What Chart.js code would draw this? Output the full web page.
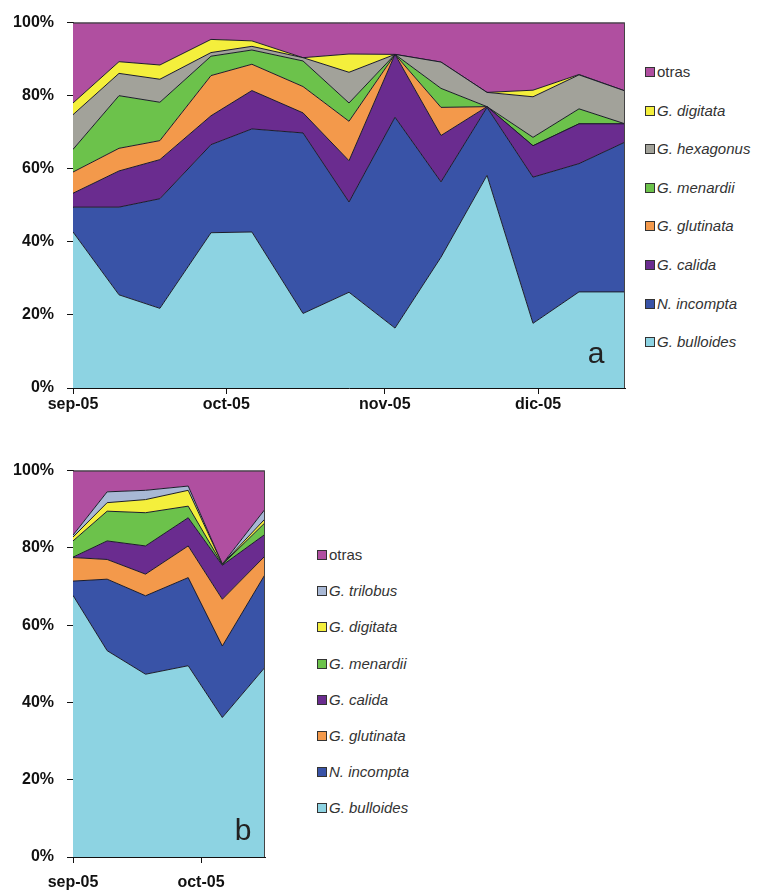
<!DOCTYPE html>
<html>
<head>
<meta charset="utf-8">
<script src="https://cdn.jsdelivr.net/npm/chart.js@4.4.1/dist/chart.umd.min.js"></script>
<style>
  body { margin: 0; background: #fff; width: 764px; height: 892px; position: relative; overflow: hidden;
         font-family: "Liberation Sans", Arial, sans-serif; }
  .wrap { position: absolute; }
  .legend { position: absolute; font-size: 15px; color: #333; }
  .legend div { position: absolute; left: 0; white-space: nowrap; line-height: 16px; }
  .legend .sw { display: inline-block; width: 8px; height: 8px; border: 1px solid #333; margin-right: 2px; vertical-align: 0; }
</style>
</head>
<body>
<div class="wrap" style="left:0;top:0;width:640px;height:425px"><canvas id="chartA"></canvas></div>
<div class="legend" id="legendA" style="left:645px;top:0"></div>
<div class="wrap" style="left:0;top:448px;width:290px;height:444px"><canvas id="chartB"></canvas></div>
<div class="legend" id="legendB" style="left:317px;top:0"></div>
<script>
const FONT = '"Liberation Sans", Arial, sans-serif';

// panel a: sampling day (days since 1 Sep 2005) and % of each species
const daysA = [0, 9, 17, 27, 35, 45, 54, 63, 72, 81, 90, 99, 108];
const monthTicksA = [0, 30, 61, 91];
const monthLabelsA = ['sep-05', 'oct-05', 'nov-05', 'dic-05'];
const bulloidesA = [42.7, 25.5, 21.8, 42.5, 42.7, 20.4, 26.2, 16.4, 35.8, 58.2, 17.7, 26.3, 26.3];
const incomptaA  = [6.8, 24.0, 30.0, 24.1, 28.2, 49.4, 24.7, 57.7, 20.6, 18.6, 40.0, 35.1, 41.0];
const calidaA    = [3.8, 9.9, 10.7, 7.9, 10.5, 5.5, 11.3, 17.2, 12.7, 0.2, 8.6, 10.9, 5.0];
const glutinataA = [5.8, 6.2, 5.2, 11.0, 7.2, 7.2, 10.8, 0, 7.7, 0, 0, 0, 0];
const menardiiA  = [6.2, 14.4, 10.5, 5.3, 3.9, 7.0, 5.0, 0, 5.2, 0, 2.3, 4.1, 0];
const hexagonusA = [9.5, 6.1, 6.3, 1.0, 1.0, 0.9, 8.4, 0, 7.2, 3.9, 11.1, 9.3, 9.0];
const digitataA  = [3.2, 3.2, 3.9, 3.6, 1.5, 0, 5.0, 0, 0, 0, 1.8, 0.1, 0];
const otrasA     = [22.0, 10.7, 11.6, 4.6, 5.0, 9.6, 8.6, 8.7, 10.8, 19.1, 18.5, 14.2, 18.7];

// panel b
const daysB = [0, 8, 17, 27, 35, 45];
const monthTicksB = [0, 30];
const monthLabelsB = ['sep-05', 'oct-05'];
const bulloidesB = [67.7, 53.4, 47.3, 49.5, 36.1, 49.1];
const incomptaB  = [3.7, 18.5, 20.3, 22.8, 18.5, 24.0];
const glutinataB = [6.1, 5.1, 5.6, 8.2, 12.1, 4.8];
const calidaB    = [0.1, 4.8, 7.3, 7.3, 8.8, 5.6];
const menardiiB  = [4.2, 7.7, 8.6, 3.0, 0.2, 3.0];
const digitataB  = [1.0, 2.2, 3.4, 4.1, 0.1, 1.0];
const trilobusB  = [0.5, 2.8, 2.4, 1.1, 0, 2.5];
const otrasB     = [16.7, 5.5, 5.1, 4.0, 24.2, 10.0];

const colors = {
  'G. bulloides': '#8dd3e2',
  'N. incompta': '#3953a7',
  'G. calida': '#6a2c8f',
  'G. glutinata': '#f3994b',
  'G. menardii': '#6cc24b',
  'G. hexagonus': '#a2a29a',
  'G. digitata': '#f4ef3c',
  'G. trilobus': '#a8b8d5',
  'otras': '#b04fa0'
};

// top/right frame of the plot area plus the panel letter
const framePlugin = {
  id: 'frame',
  afterDraw(chart, args, opts) {
    const { ctx, chartArea: a } = chart;
    ctx.save();
    ctx.strokeStyle = '#444';
    ctx.lineWidth = 1;
    ctx.beginPath();
    ctx.moveTo(a.left, a.top + 0.5);
    ctx.lineTo(a.right - 0.5, a.top + 0.5);
    ctx.lineTo(a.right - 0.5, a.bottom);
    ctx.stroke();
    if (opts.letter) {
      ctx.font = '30px ' + FONT;
      ctx.fillStyle = '#222';
      ctx.textAlign = 'center';
      ctx.fillText(opts.letter, a.right - opts.dx, a.bottom - opts.dy);
    }
    ctx.restore();
  }
};

function makeChart(id, days, series, ticks, tickLabels, cfg) {
  const datasets = series.map((s, i) => ({
    label: s.label,
    data: s.data.map((v, j) => ({ x: days[j], y: v })),
    backgroundColor: colors[s.label],
    borderColor: '#1c1c2a',
    borderWidth: 1,
    pointRadius: 0,
    tension: 0,
    fill: i === 0 ? 'origin' : '-1'
  }));
  const tickFont = { family: FONT, size: 16, weight: 'bold' };
  return new Chart(document.getElementById(id), {
    type: 'line',
    data: { datasets },
    plugins: [framePlugin],
    options: {
      responsive: true,
      maintainAspectRatio: false,
      animation: false,
      layout: { padding: { top: 21, right: cfg.padRight, left: 0, bottom: 0 } },
      plugins: {
        legend: { display: false },
        tooltip: { enabled: false },
        frame: { letter: cfg.letter, dx: cfg.dx, dy: cfg.dy }
      },
      scales: {
        x: {
          type: 'linear',
          min: 0,
          max: days[days.length - 1],
          afterBuildTicks: scale => { scale.ticks = ticks.map(v => ({ value: v })); },
          afterFit: scale => { scale.height = cfg.xHeight; },
          ticks: {
            font: tickFont,
            color: '#111',
            padding: cfg.xPad,
            maxRotation: 0,
            autoSkip: false,
            callback: (v, i) => tickLabels[i]
          },
          grid: { drawOnChartArea: false, tickLength: 6, color: '#111' },
          border: { color: '#111', width: 1 }
        },
        y: {
          stacked: true,
          min: 0,
          max: 100,
          afterFit: scale => { scale.width = 73; },
          ticks: {
            stepSize: 20,
            font: tickFont,
            color: '#111',
            padding: 13,
            callback: v => v + '%'
          },
          grid: { drawOnChartArea: false, tickLength: 6, color: '#111' },
          border: { color: '#111', width: 1 }
        }
      }
    }
  });
}

function buildLegend(id, series, top, step) {
  const box = document.getElementById(id);
  series.slice().reverse().forEach((s, i) => {
    const row = document.createElement('div');
    row.style.top = (top + i * step - 8) + 'px';
    const name = s.label === 'otras' ? s.label : '<i>' + s.label + '</i>';
    row.innerHTML = '<span class="sw" style="background:' + colors[s.label] + '"></span>' + name;
    box.appendChild(row);
  });
}

const seriesA = [
  { label: 'G. bulloides', data: bulloidesA },
  { label: 'N. incompta', data: incomptaA },
  { label: 'G. calida', data: calidaA },
  { label: 'G. glutinata', data: glutinataA },
  { label: 'G. menardii', data: menardiiA },
  { label: 'G. hexagonus', data: hexagonusA },
  { label: 'G. digitata', data: digitataA },
  { label: 'otras', data: otrasA }
];

const seriesB = [
  { label: 'G. bulloides', data: bulloidesB },
  { label: 'N. incompta', data: incomptaB },
  { label: 'G. glutinata', data: glutinataB },
  { label: 'G. calida', data: calidaB },
  { label: 'G. menardii', data: menardiiB },
  { label: 'G. digitata', data: digitataB },
  { label: 'G. trilobus', data: trilobusB },
  { label: 'otras', data: otrasB }
];

makeChart('chartA', daysA, seriesA, monthTicksA, monthLabelsA,
  { padRight: 15, xHeight: 37, xPad: 1, letter: 'a', dx: 29, dy: 25 });
makeChart('chartB', daysB, seriesB, monthTicksB, monthLabelsB,
  { padRight: 25, xHeight: 35, xPad: 10, letter: 'b', dx: 22, dy: 17 });

buildLegend('legendA', seriesA, 72, 38.6);
buildLegend('legendB', seriesB, 555, 36.2);
</script>
</body>
</html>
